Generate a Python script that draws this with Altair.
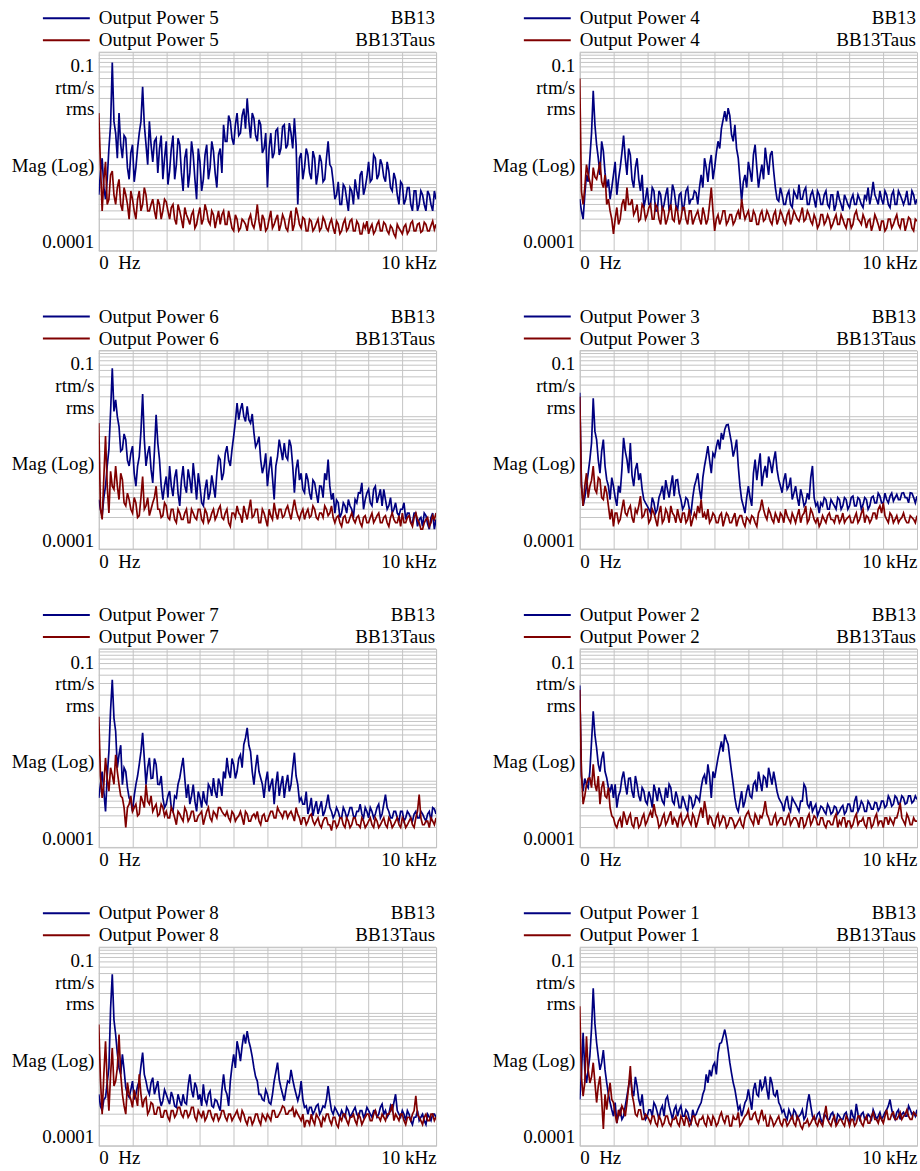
import altair as alt
import pandas as pd

# ---------------- axis / layout constants ----------------
FONT = "Liberation Serif"
FS = 19
BLUE = "#000080"
RED = "#800000"
GRID = "#c4c4c4"
PW, PH = 338, 199

FREQ_STEP_HZ = 100          # spacing of the main readings (0, 100, ... 10000 Hz)
MID_OFFSET_HZ = 50          # the *_MID readings sit half way (50, 150, ... 9950 Hz)
X_GRID = [0, 1000, 2000, 3000, 4000, 5000, 6000, 7000, 8000, 9000, 10000]
Y_GRID = [k * 10.0 ** e for e in (-4, -3, -2) for k in range(1, 10)] + [0.1]
Y_LABEL_TEXT = ["0.1", "rtm/s", "rms", "Mag (Log)", "0.0001"]
Y_LABEL_POS = [0.063, 0.0297, 0.014, 0.00196, 0.000136]
X_LABEL_TEXT = ["0\u00a0\u00a0Hz", "10 kHz"]

# ---------------- spectra (magnitude, rtm/s rms) ----------------
P5_BB13 = [.0007, .0025, .0006, .0035, .07, .006, .012, .0025, .005, .0012,
           .004, .0018, .006, .03, .004, .009, .0022, .005, .0035, .0012,
           .0045, .0016, .0055, .002, .004, .0008, .0035, .0015, .0028, .0006,
           .0022, .0012, .004, .0018, .0032, .0009, .0035, .008, .0045, .009,
           .004, .012, .006, .014, .02, .005, .01, .0045, .008, .0035,
           .0009, .006, .003, .007, .0035, .008, .004, .006, .01, .0005,
           .003, .0018, .0028, .0012, .0025, .0015, .0022, .0012, .0045, .0018,
           .0006, .0011, .0005, .0009, .0004, .0008, .0012, .0006, .0016, .0009,
           .0022, .0012, .0025, .0014, .002, .0011, .0016, .0008, .0012, .0005,
           .001, .0006, .0009, .0004, .0008, .0005, .0007, .0004, .0007, .0004, .0006]
P5_BB13_MID = [.0015, .0009, .0012, .008, .009, .0025, .004, .0055, .0018, .003,
               .0011, .0035, .009, .008, .002, .004, .0045, .0015, .0055, .0025,
               .001, .0035, .0012, .005, .0015, .0025, .0009, .0045, .0012, .0035,
               .0008, .0028, .0012, .0045, .0015, .0028, .0015, .0045, .011, .005,
               .008, .0055, .011, .007, .009, .012, .0055, .0095, .003, .006,
               .0035, .0025, .0065, .0028, .0075, .0035, .0085, .0035, .004, .0025,
               .0012, .0035, .0015, .0032, .001, .0028, .0011, .0025, .002, .0011,
               .0007, .0005, .001, .0006, .0009, .0005, .0008, .0014, .0007, .0013,
               .0011, .0028, .0012, .0024, .0013, .0022, .0009, .0015, .0007, .0011,
               .0005, .0009, .0005, .0008, .0004, .0008, .0005, .0008, .0005, .0008]
P5_TAUS = [.012, .0004, .0022, .0006, .0016, .0005, .0012, .0004, .0007, .0003,
           .0006, .0003, .0008, .0005, .0007, .0004, .0006, .0003, .0005, .0004,
           .00055, .0003, .0005, .00025, .0004, .00022, .00035, .00025, .0004, .00025,
           .00045, .0003, .0004, .00025, .00035, .0003, .00025, .0004, .00025, .0003,
           .0002, .0003, .00022, .00028, .0002, .00035, .00022, .0005, .0002, .0003,
           .00022, .0004, .00025, .00035, .00025, .0003, .0002, .0004, .00025, .00035,
           .00022, .0003, .0002, .00028, .00022, .0003, .00022, .00028, .0002, .0003,
           .00018, .00025, .0002, .0003, .00022, .0003, .0002, .00025, .00018, .00022,
           .00018, .00025, .0002, .00028, .0002, .00025, .00018, .00022, .00016, .00022,
           .00018, .00025, .0002, .00028, .0002, .00026, .0002, .00025, .0002, .00028, .00025]
P5_TAUS_MID = [.002, .0012, .0005, .0014, .0007, .0009, .0005, .0009, .0005, .0008,
               .0004, .0006, .0004, .0009, .0004, .0005, .0004, .0006, .0003, .0006,
               .0004, .00045, .0003, .0005, .0003, .00045, .0003, .00035, .00022, .00035,
               .00025, .0005, .00028, .0004, .00022, .0004, .00035, .00025, .0004, .00022,
               .00035, .0002, .0003, .00025, .0003, .00025, .0003, .00028, .00035, .0002,
               .0003, .00022, .0003, .0002, .00035, .00022, .0003, .0002, .00045, .00025,
               .00032, .0002, .0003, .0002, .00026, .0002, .00032, .00022, .00026, .00022,
               .00028, .00018, .00026, .0002, .00028, .0002, .00028, .00018, .00025, .00028,
               .00022, .00018, .00025, .0002, .00027, .0002, .00024, .00018, .00025, .0002,
               .00023, .00018, .00026, .0002, .00025, .00019, .00027, .0002, .00024, .00021]

P4_BB13 = [.0006, .0003, .0014, .0025, .026, .004, .0014, .0032, .0009, .0006,
           .0014, .0007, .0018, .0055, .0014, .0028, .0009, .0025, .0008, .00045,
           .0009, .0005, .0008, .0004, .0007, .0005, .0009, .0005, .0008, .0004,
           .00075, .0005, .0009, .0006, .0008, .0005, .0014, .0025, .0011, .0028,
           .0018, .0045, .007, .0128, .0143, .0057, .008, .0025, .00056, .0014,
           .0022, .0011, .004, .0009, .002, .0036, .0014, .0032, .0009, .00056,
           .0007, .0005, .0008, .00045, .0007, .001, .0006, .0009, .0005, .0008,
           .00045, .0007, .0005, .0008, .00045, .0007, .0005, .0006, .0004, .0006,
           .00045, .0007, .0005, .0006, .00045, .0006, .0005, .0011, .0006, .0008,
           .0005, .0007, .00045, .0008, .0005, .0007, .0005, .0008, .0005, .0007, .0006]
P4_BB13_MID = [.0004, .0007, .0011, .006, .008, .0025, .0045, .0015, .0012, .0009,
               .0022, .0012, .003, .0025, .0035, .0012, .0018, .0012, .0014, .0006,
               .0005, .0009, .0004, .0008, .0004, .0007, .0004, .001, .0005, .0007,
               .0004, .0008, .0005, .0006, .00075, .0009, .0009, .0018, .002, .0012,
               .003, .0035, .0095, .009, .011, .0045, .0035, .0012, .0011, .0009,
               .0016, .0028, .0018, .0014, .0012, .0022, .0028, .0016, .0006, .0009,
               .0005, .0007, .0005, .0008, .0006, .0006, .0008, .0005, .0007, .0006,
               .0008, .0005, .0007, .0005, .0007, .0004, .0008, .0005, .0007, .0005,
               .0006, .0005, .0007, .0005, .0007, .0009, .0007, .0007, .0005, .0006,
               .0008, .0005, .0007, .0005, .0008, .0006, .0006, .0005, .0008, .0005]
P4_TAUS = [.04, .0005, .002, .0011, .0018, .0012, .0022, .0009, .0005, .0004,
           .00018, .00045, .0003, .0006, .0009, .0005, .00035, .0005, .0003, .00045,
           .00035, .0005, .0003, .00045, .00025, .0004, .0003, .0005, .00028, .0004,
           .0003, .00045, .00025, .0004, .0003, .0004, .00025, .00035, .0003, .0009,
           .0002, .00035, .0003, .0004, .00028, .00035, .00028, .0004, .0006, .0003,
           .0004, .00028, .00035, .00025, .0004, .0003, .00035, .00025, .0004, .0003,
           .00035, .00025, .0004, .0003, .00035, .00028, .00045, .0003, .00035, .00025,
           .0003, .00025, .00035, .00028, .0003, .00025, .00035, .00025, .0003, .00022,
           .0003, .00025, .0004, .00028, .00035, .00022, .0003, .00025, .0003, .0002,
           .00028, .00022, .0003, .00025, .00035, .00022, .0003, .00025, .0003, .0002, .00028]
P4_TAUS_MID = [.0008, .0009, .0014, .0008, .0013, .0016, .0011, .0014, .0006, .0003,
               .0003, .00025, .0005, .0004, .0005, .0006, .0004, .00028, .0005, .0003,
               .00045, .0003, .0005, .0003, .00045, .00025, .0004, .0003, .00045, .00025,
               .00045, .0003, .0004, .00025, .00035, .0003, .00045, .00025, .0005, .0004,
               .0003, .00025, .0004, .00025, .00035, .00025, .00035, .0003, .0004, .00035,
               .00028, .0004, .00025, .00035, .00028, .0004, .00028, .00035, .00025, .0004,
               .00028, .00035, .00025, .0004, .0003, .00035, .00028, .0004, .00028, .00035,
               .00022, .00035, .00025, .00035, .00022, .0003, .00025, .00035, .00025, .0003,
               .00022, .00035, .0003, .00025, .0003, .00028, .0002, .00035, .00025, .00028,
               .0002, .0003, .00022, .0003, .00025, .0003, .0002, .00032, .00022, .0003]

P6_BB13 = [.00056, .00032, .00089, .0032, .054, .018, .0071, .0032, .0045, .0018,
           .0036, .00089, .0025, .022, .0018, .0036, .001, .0107, .00225, .00056,
           .00125, .0018, .00063, .0016, .00045, .0018, .00071, .00112, .002, .00056,
           .00089, .00045, .00112, .00071, .00089, .0014, .00225, .0014, .0036, .0018,
           .0051, .016, .0128, .0101, .0143, .008, .0057, .004, .00225, .0018,
           .00089, .0025, .00056, .0025, .0032, .004, .00225, .0036, .00071, .00225,
           .0014, .00071, .00112, .00056, .001, .0005, .00089, .0014, .00225, .00056,
           .00035, .0005, .00035, .00045, .00056, .0004, .00056, .00071, .001, .00056,
           .0008, .00045, .00089, .00063, .00045, .00056, .00045, .00035, .0005, .00032,
           .0004, .00028, .00035, .00025, .00035, .00028, .00022, .00032, .0002, .00035, .00028]
P6_BB13_MID = [.0004, .0006, .0018, .012, .012, .01, .003, .0055, .0022, .0028,
               .0014, .0018, .006, .0045, .0028, .0016, .003, .004, .0009, .0009,
               .0006, .0009, .0012, .0007, .0011, .0009, .0016, .0007, .0011, .0014,
               .0005, .0008, .00056, .0013, .0006, .0025, .0011, .0028, .0022, .0032,
               .0085, .009, .016, .0085, .009, .011, .0035, .005, .0014, .0028,
               .0016, .0012, .0018, .0045, .0022, .0025, .0045, .0018, .0016, .0011,
               .0008, .0014, .0007, .0011, .0007, .0009, .0006, .0011, .0009, .0007,
               .00055, .0003, .0005, .00035, .00045, .0003, .0005, .0007, .0004, .0007,
               .0005, .0008, .0005, .0008, .0008, .0004, .0006, .0004, .00035, .0004,
               .0005, .00035, .00025, .00035, .00022, .0003, .00035, .00024, .0003, .0002]
P6_TAUS = [.008, .00028, .0051, .00035, .00089, .0018, .00056, .00112, .00045, .00056,
           .00035, .0005, .00032, .00125, .00045, .00032, .0005, .00089, .0004, .00032,
           .00045, .00028, .0004, .00025, .00035, .00028, .0004, .00025, .00035, .00028,
           .0004, .00025, .00035, .00028, .0004, .00032, .00045, .00028, .0004, .00022,
           .00035, .00045, .00032, .00045, .00028, .00056, .00032, .0004, .00025, .00035,
           .00022, .00032, .0005, .00028, .0004, .00032, .00045, .00028, .00056, .00032,
           .00035, .00028, .0004, .00032, .0004, .00028, .00035, .00045, .00032, .00045,
           .00025, .00032, .00022, .00032, .00025, .00035, .00025, .00032, .00022, .00032,
           .00025, .00035, .00028, .00035, .00025, .00032, .00022, .00035, .00025, .00032,
           .00035, .00025, .00032, .00022, .00035, .00025, .0002, .00028, .00022, .00032, .00035]
P6_TAUS_MID = [.0004, .0012, .0009, .0015, .0008, .0009, .0014, .0005, .0007, .0004,
               .0006, .0003, .0006, .0004, .0006, .0004, .0006, .0004, .0003, .0005,
               .0003, .0004, .00028, .0004, .00028, .00035, .00025, .0004, .0003, .0004,
               .00028, .0004, .00025, .00035, .00028, .0004, .0003, .00035, .00025, .00035,
               .0003, .00035, .00025, .00035, .0004, .0003, .0004, .00025, .0004, .00028,
               .0004, .00028, .00035, .0004, .0003, .0004, .00035, .0004, .0004, .00028,
               .0004, .00035, .0003, .00045, .0003, .00035, .0003, .0004, .00035, .0003,
               .0003, .00025, .0003, .00025, .0003, .00028, .0003, .00025, .0003, .00025,
               .0003, .00025, .00032, .00025, .0003, .00025, .0003, .00028, .00025, .00022,
               .00025, .0003, .00025, .0003, .00028, .0002, .00025, .0003, .00025, .00028]

P3_BB13 = [.023, .00045, .00089, .00225, .019, .0045, .0014, .0045, .00112, .00056,
           .00089, .00045, .00071, .0048, .00225, .004, .00089, .002, .0014, .00056,
           .00045, .00035, .0005, .0004, .00071, .00056, .0008, .00089, .00063, .00112,
           .00056, .00045, .00056, .00035, .00089, .0014, .00056, .0018, .0036, .0014,
           .0025, .0045, .0057, .0064, .0076, .004, .0032, .0018, .00056, .00035,
           .00089, .00045, .00225, .0018, .00089, .0018, .0025, .0014, .003, .00112,
           .00071, .0014, .00089, .00056, .00089, .00045, .00063, .0005, .00056, .0018,
           .00045, .00035, .00045, .00056, .0004, .0005, .0004, .00056, .00045, .00056,
           .00045, .00063, .00045, .00056, .00047, .00056, .00045, .00063, .0005, .00063,
           .0005, .00056, .00063, .00053, .00067, .00056, .00071, .0006, .00071, .0006, .00063]
P3_BB13_MID = [.001, .0006, .0014, .004, .006, .0022, .003, .0018, .0009, .0012,
               .0006, .0009, .0016, .003, .0014, .0013, .0016, .0011, .0008, .0005,
               .0004, .0006, .00035, .0006, .0009, .0011, .0006, .0013, .0011, .0007,
               .0004, .0006, .0004, .0006, .0011, .0008, .0012, .0025, .0022, .0028,
               .0035, .0032, .0045, .0075, .0055, .0025, .0045, .0009, .00045, .0006,
               .0006, .0014, .0011, .0028, .0014, .0012, .002, .0022, .0016, .0009,
               .0011, .0008, .0012, .0007, .0006, .0008, .00045, .0007, .0012, .0006,
               .0005, .0005, .0006, .0004, .00056, .00045, .0006, .0004, .0006, .0004,
               .0006, .00045, .0006, .0004, .0006, .0004, .0006, .0005, .0007, .0005,
               .0007, .0005, .0007, .0006, .00056, .0007, .0006, .0005, .0007, .0005]
P3_TAUS = [.02, .00045, .0014, .00089, .0018, .00071, .00112, .00056, .00071, .00028,
           .00022, .00035, .00028, .00056, .00032, .00045, .00025, .00035, .00063, .00032,
           .0004, .00028, .00035, .00022, .00045, .00028, .00035, .00045, .00032, .0004,
           .00025, .00035, .00028, .00022, .00035, .00045, .00056, .00035, .0004, .00028,
           .00032, .00025, .00035, .00028, .00032, .00025, .00035, .00028, .00032, .00022,
           .00028, .00032, .00025, .00035, .00056, .00032, .0004, .00028, .00035, .00025,
           .00032, .0004, .00028, .00035, .00025, .0004, .00032, .00045, .00028, .00035,
           .00025, .00022, .00032, .00025, .00035, .00028, .00032, .00025, .00035, .00028,
           .00032, .00025, .00035, .00028, .0004, .00032, .00025, .00035, .00028, .00045,
           .0005, .00028, .00035, .00025, .00032, .00028, .00035, .00025, .00032, .00028, .00032]
P3_TAUS_MID = [.0009, .0009, .0006, .0011, .0008, .0012, .0006, .0009, .00045, .0004,
               .00035, .00025, .0004, .00035, .0004, .0003, .0004, .00045, .0003, .0004,
               .00025, .0004, .00028, .00035, .00025, .0004, .00025, .00035, .00025, .0003,
               .00035, .00025, .0004, .00028, .0003, .00035, .0003, .00028, .00025, .00035,
               .00025, .00032, .00022, .00035, .00025, .0003, .00022, .00032, .00025, .0003,
               .00025, .0003, .00022, .0004, .0004, .00028, .00035, .00025, .0003, .00035,
               .00025, .00032, .00025, .0003, .00032, .00025, .00035, .00025, .0004, .00028,
               .0003, .00025, .00028, .00032, .00028, .00025, .00032, .00028, .00025, .0003,
               .00025, .0003, .00025, .00035, .00025, .0003, .00028, .00035, .0004, .00035,
               .00032, .00025, .00032, .00028, .00025, .0003, .00028, .00025, .0003, .00025]

P7_BB13 = [.00056, .0014, .00035, .0028, .034, .0057, .0025, .00089, .0014, .00056,
           .00035, .00089, .0018, .0054, .00089, .00225, .00112, .0018, .00089, .00056,
           .00045, .00071, .00035, .00056, .00112, .00225, .00056, .00045, .00089, .00035,
           .00056, .00071, .00045, .0008, .00112, .00056, .00089, .0014, .00225, .00112,
           .0018, .0014, .0025, .0036, .0064, .0028, .00089, .0025, .00112, .00056,
           .0014, .00089, .00045, .0014, .00089, .00056, .00125, .00089, .0027, .00089,
           .00056, .00045, .00032, .00056, .0004, .00032, .0005, .00035, .00063, .00035,
           .00032, .00035, .00028, .00035, .00032, .0004, .00028, .00035, .00032, .0004,
           .00028, .00035, .00032, .00045, .00032, .00063, .00035, .00028, .00035, .00025,
           .00035, .00028, .00032, .00025, .00035, .00028, .00032, .00025, .00035, .0004, .00032]
P7_BB13_MID = [.0009, .0007, .0012, .012, .009, .0016, .0035, .0016, .0008, .0005,
               .0006, .0012, .0028, .0022, .0016, .0011, .0022, .0009, .0012, .0004,
               .0006, .0004, .0006, .0009, .0016, .0011, .0009, .0006, .0005, .0007,
               .0004, .0005, .0009, .0006, .0007, .0011, .0006, .0011, .0014, .0022,
               .0011, .0022, .0016, .0045, .0035, .0014, .0016, .0014, .0009, .001,
               .0007, .0011, .0009, .0006, .0012, .0009, .0007, .0016, .0012, .0005,
               .00045, .0007, .0004, .0003, .0005, .0004, .0003, .00045, .0004, .00028,
               .0004, .00028, .0004, .00028, .0004, .0003, .00035, .00045, .00028, .00035,
               .0004, .00028, .0004, .00028, .00045, .0004, .00028, .00035, .00028, .00035,
               .00025, .00035, .00028, .00032, .00028, .00035, .00028, .00032, .00025, .00038]
P7_TAUS = [.0094, .00056, .00225, .00071, .00125, .0025, .00089, .00056, .0002, .00045,
           .00035, .00045, .00032, .0005, .00089, .00045, .00035, .00045, .00032, .0004,
           .00035, .00028, .00035, .00022, .00032, .00025, .00035, .00028, .00035, .00025,
           .00032, .00022, .00035, .00028, .00035, .00028, .0004, .00032, .00035, .00025,
           .00032, .00028, .00035, .00022, .00032, .00025, .00032, .00035, .00022, .00032,
           .00025, .00035, .00028, .0004, .00032, .00035, .00028, .00035, .00025, .00032,
           .00022, .00028, .00025, .00032, .00022, .00028, .0002, .00028, .00022, .00018,
           .00025, .00022, .00028, .0002, .00025, .00022, .00028, .00022, .00028, .0002,
           .00025, .00022, .00028, .0002, .00025, .00022, .00028, .0002, .00025, .00022,
           .00028, .0002, .00025, .00022, .00028, .00063, .00022, .00025, .0002, .00025, .00028]
P7_TAUS_MID = [.0012, .0009, .0011, .0016, .0009, .0014, .0006, .0004, .0004, .0006,
               .0004, .0003, .0006, .0004, .0005, .0006, .0004, .0003, .00045, .0003,
               .00028, .0004, .00028, .00035, .00028, .0004, .00025, .00035, .00025, .0003,
               .00035, .00028, .0004, .00025, .00032, .0004, .00035, .0003, .00028, .00035,
               .00025, .0003, .00028, .00035, .00025, .0003, .00028, .00025, .0003, .00025,
               .0003, .00035, .00028, .00035, .00028, .00035, .00032, .0003, .0004, .00028,
               .00028, .00022, .0003, .00025, .00025, .00022, .00025, .00028, .00022, .00025,
               .0002, .00028, .00022, .00028, .0002, .00028, .00022, .0002, .00025, .00022,
               .00028, .0002, .00025, .00022, .00028, .0002, .00025, .00022, .00028, .0002,
               .00025, .00022, .00028, .0002, .00035, .00028, .00022, .00025, .00028, .00022]

P2_BB13 = [.028, .00071, .00089, .0014, .0114, .0032, .0014, .0028, .00112, .00071,
           .00056, .0004, .00071, .0014, .00063, .00112, .00056, .00089, .0005, .00071,
           .00045, .00056, .00089, .0005, .00063, .00045, .00056, .0008, .00045, .00056,
           .0004, .0005, .00035, .00056, .00045, .00056, .0008, .00125, .0018, .00056,
           .00112, .00225, .004, .0051, .0036, .0014, .00056, .00035, .00071, .0005,
           .00089, .00056, .001, .0014, .00071, .00112, .0016, .00089, .001, .00056,
           .00045, .0005, .0004, .00056, .00045, .00035, .0005, .0008, .0004, .00035,
           .00045, .00035, .0004, .00032, .0004, .00034, .0004, .00035, .00043, .00035,
           .00045, .00035, .0006, .0004, .00045, .00035, .00045, .00038, .00047, .0004,
           .0005, .00043, .00053, .00045, .00056, .00047, .00056, .00047, .0006, .0005, .00053]
P2_BB13_MID = [.0012, .0011, .0008, .004, .005, .0018, .0022, .0014, .0008, .0009,
               .0009, .0006, .0011, .0009, .0011, .0007, .0012, .0006, .0008, .0005,
               .0007, .0004, .0007, .0008, .0005, .0008, .0009, .0005, .0007, .0004,
               .0006, .0004, .0006, .0004, .0006, .0005, .0011, .0009, .0012, .0014,
               .0016, .003, .0028, .0042, .0022, .0009, .0004, .0005, .0004, .0007,
               .0006, .0009, .0007, .001, .0012, .0008, .0012, .0014, .0007, .0005,
               .00035, .0006, .00035, .0005, .0004, .0005, .0009, .00045, .0005, .0004,
               .0003, .00042, .00035, .00045, .00032, .00042, .00032, .0004, .00032, .00045,
               .00035, .0005, .00035, .0005, .00035, .0005, .00038, .00048, .00036, .0005,
               .0004, .0006, .00042, .0006, .00045, .0006, .00045, .0006, .00047, .0006]
P2_TAUS = [.024, .00045, .00089, .00112, .0018, .00071, .00045, .001, .00056, .0004,
           .00028, .0002, .00028, .00035, .00022, .00032, .0002, .00028, .00022, .00032,
           .00025, .00035, .00045, .00028, .00022, .00032, .00025, .00035, .00028, .0002,
           .00032, .00025, .00032, .00022, .00028, .00025, .0004, .0005, .00022, .00028,
           .0002, .00032, .00025, .00028, .00022, .00028, .0002, .00025, .00022, .00028,
           .00035, .00025, .00032, .00022, .00028, .0005, .00028, .00022, .00032, .00025,
           .00028, .00022, .00032, .00025, .00028, .0002, .00028, .00022, .00032, .00025,
           .00028, .00022, .00028, .0002, .00025, .00022, .00032, .00025, .00028, .0002,
           .00025, .00022, .00032, .00025, .00028, .0002, .00028, .00022, .00032, .00025,
           .0002, .00028, .00028, .00022, .00028, .00047, .00025, .00032, .00022, .00028, .00025]
P2_TAUS_MID = [.0014, .0006, .0011, .0008, .0009, .0012, .0008, .0006, .0008, .0003,
               .00022, .00025, .0002, .00028, .00028, .00022, .00028, .0002, .00028, .00022,
               .0003, .00028, .00032, .0002, .00028, .00022, .0003, .00022, .00025, .00028,
               .00022, .00028, .00025, .00032, .0002, .00032, .00028, .00035, .0003, .00022,
               .00028, .00022, .0003, .0002, .00028, .00025, .00022, .00028, .0002, .00032,
               .00028, .00022, .00028, .0003, .00035, .00032, .00022, .00028, .00022, .00028,
               .00022, .00028, .00022, .00028, .00025, .00028, .0002, .00028, .00022, .0003,
               .00022, .00028, .00022, .00025, .00022, .00028, .0002, .00022, .00028, .00025,
               .0002, .00028, .00022, .00025, .00022, .00028, .0002, .00028, .00022, .00025,
               .00028, .00022, .00025, .00028, .00035, .00028, .00022, .00028, .00022, .00025]

P8_BB13 = [.0006, .00034, .00054, .0015, .039, .0048, .0015, .0024, .00076, .00054,
           .00095, .0006, .00095, .00255, .00095, .0006, .00107, .00076, .00054, .00048,
           .0006, .000425, .00054, .00038, .00048, .0006, .000425, .0012, .00054, .00076,
           .0006, .00085, .000425, .00067, .00038, .00048, .00034, .0012, .0006, .00095,
           .0024, .0038, .0019, .0048, .0054, .003, .0015, .00095, .0006, .00048,
           .0006, .000425, .00095, .0018, .00076, .00048, .00095, .0014, .00076, .00048,
           .00095, .00038, .0003, .00038, .00034, .000425, .00034, .00038, .0008, .00034,
           .00038, .0003, .00034, .00027, .00034, .0003, .00038, .00027, .00034, .0003,
           .00034, .00027, .00034, .0003, .000425, .00034, .0003, .00034, .0006, .0003,
           .00034, .00024, .0003, .00021, .00027, .00024, .0003, .00021, .00027, .0003, .00027]
P8_BB13_MID = [.0004, .0005, .0009, .012, .008, .0025, .0012, .0014, .0006, .0007,
               .0005, .0008, .0016, .0012, .0007, .0009, .0006, .00095, .0004, .0007,
               .0005, .00065, .0004, .0006, .0004, .00045, .0008, .0007, .0009, .0005,
               .0004, .0005, .0006, .0004, .0005, .0004, .0007, .0007, .0004, .0016,
               .0015, .0028, .0032, .0035, .0038, .0022, .0011, .0006, .0005, .0007,
               .00045, .0006, .0013, .001, .0006, .0007, .0009, .001, .0006, .0006,
               .0005, .0004, .00038, .0003, .0004, .0003, .0004, .0005, .0005, .0003,
               .00034, .00027, .0003, .00038, .00027, .00034, .0003, .00034, .00027, .00038,
               .0003, .00034, .00027, .00038, .0003, .00027, .0004, .00045, .00034, .00027,
               .0003, .00034, .00024, .00027, .00034, .00027, .00024, .0003, .00024, .0003]
P8_TAUS = [.0068, .0003, .0038, .00034, .003, .00095, .0048, .0006, .0003, .0006,
           .00038, .00054, .0012, .00038, .00054, .00034, .000425, .0003, .00038, .00027,
           .00034, .00024, .00034, .0003, .00038, .00027, .00034, .0003, .00038, .00024,
           .0003, .00034, .00027, .00034, .00024, .0003, .00027, .00034, .00024, .0003,
           .00027, .00034, .00024, .0003, .00021, .00027, .00024, .0003, .00021, .00027,
           .0003, .00024, .00034, .00027, .00034, .00038, .0003, .00034, .00027, .0003,
           .00024, .00019, .00024, .0003, .00021, .00027, .00019, .00024, .0003, .00021,
           .00027, .00019, .00024, .0003, .00021, .00027, .00024, .0003, .00021, .00027,
           .0003, .00024, .00034, .00027, .0003, .00024, .0003, .000425, .0003, .00024,
           .0003, .00021, .00027, .0003, .00057, .00027, .00021, .0003, .00024, .0003, .00027]
P8_TAUS_MID = [.001, .0012, .0009, .0012, .0008, .0015, .0012, .0004, .0009, .0005,
               .0007, .0004, .0006, .0005, .0003, .00045, .0003, .00038, .00027, .00034,
               .00027, .00034, .00027, .00038, .0003, .00034, .00027, .00038, .00027, .00034,
               .00027, .00024, .00034, .00027, .0003, .00024, .00034, .00027, .0003, .00024,
               .0003, .00027, .00034, .00024, .00027, .00021, .0003, .00024, .0003, .00024,
               .00027, .00034, .00027, .0003, .0004, .0003, .00034, .00038, .00034, .00027,
               .0003, .00024, .00021, .00024, .0003, .00024, .00027, .0003, .00024, .00027,
               .00021, .00027, .0003, .00024, .00027, .0003, .00021, .00027, .00024, .0003,
               .00024, .0003, .00027, .00024, .00027, .0003, .00034, .00024, .00027, .0003,
               .00024, .00027, .00024, .00034, .0003, .00024, .00027, .00024, .0003, .00024]

P1_BB13 = [.0005, .0051, .00089, .00225, .024, .0036, .0014, .0028, .00089, .00045,
           .00028, .00022, .00035, .00028, .00056, .00112, .00056, .0008, .0004, .00032,
           .00028, .00035, .00045, .00032, .00035, .00028, .00056, .00032, .00035, .00028,
           .0004, .00028, .00032, .00022, .00028, .00035, .00045, .00071, .00089, .00112,
           .0018, .0025, .0036, .0057, .0028, .00125, .00071, .00035, .00028, .00045,
           .00071, .00035, .00089, .00056, .00071, .00112, .0005, .00089, .00056, .00045,
           .00032, .00028, .00035, .00025, .00032, .00028, .00035, .00028, .0006, .00028,
           .00025, .00032, .00022, .00028, .00025, .00032, .00022, .00028, .00025, .00032,
           .00022, .00028, .00043, .00025, .00032, .00025, .00028, .00035, .00025, .00032,
           .00028, .00035, .0005, .00028, .00032, .00025, .00032, .00028, .00035, .00032, .00035]
P1_BB13_MID = [.0012, .0014, .0014, .006, .007, .0022, .0018, .0014, .0006, .00035,
               .00045, .0003, .00025, .0004, .0008, .0007, .0011, .0005, .0006, .00025,
               .00035, .00028, .0004, .00025, .0004, .0005, .0004, .00025, .0004, .00035,
               .00028, .00035, .00025, .00035, .0003, .0004, .0006, .0012, .0014, .0016,
               .0012, .0035, .0045, .0042, .0018, .0009, .0005, .0004, .00035, .0005,
               .0005, .0007, .0006, .001, .0008, .0007, .0011, .0006, .0007, .0004,
               .00035, .00025, .0003, .00035, .00025, .0003, .00025, .00045, .0004, .00025,
               .0003, .00025, .0003, .00025, .0003, .00025, .0003, .00025, .0003, .00025,
               .00035, .00025, .0003, .0003, .00025, .0003, .00025, .0003, .00028, .00025,
               .00032, .0004, .00035, .00025, .00035, .0003, .00028, .0004, .0003, .00028]
P1_TAUS = [.0128, .00056, .0045, .00089, .0018, .00045, .00112, .00018, .00035, .00089,
           .00045, .00022, .00028, .00035, .00045, .0016, .00045, .00028, .00035, .00025,
           .00028, .00022, .00028, .0002, .00025, .00022, .00028, .0002, .00025, .00022,
           .00028, .0002, .00025, .00022, .00028, .0002, .00025, .00022, .00028, .0002,
           .00025, .00022, .00032, .00022, .00028, .0002, .00025, .00032, .00022, .00028,
           .00035, .00025, .00032, .00022, .00035, .00028, .0002, .00025, .00022, .00028,
           .0002, .00025, .00022, .00028, .0002, .00025, .00018, .00022, .0002, .00025,
           .00022, .00025, .0002, .0004, .00022, .00025, .0002, .00025, .00022, .00028,
           .0002, .00025, .00022, .00028, .0002, .00028, .00022, .00032, .00025, .00028,
           .00022, .00035, .00025, .00032, .00025, .00032, .00028, .00035, .00025, .00032, .00028]
P1_TAUS_MID = [.0011, .0009, .0014, .0011, .0009, .0008, .0005, .0006, .0006, .0005,
               .0003, .00035, .0004, .00028, .0008, .0006, .0003, .00035, .00025, .0003,
               .00025, .00028, .00022, .00028, .0002, .00028, .00022, .00025, .00028, .0002,
               .00025, .00028, .0002, .00028, .00022, .00025, .00028, .0002, .00025, .00028,
               .0002, .00028, .00025, .00028, .0002, .00028, .00025, .0002, .00025, .0003,
               .00025, .0003, .00025, .00028, .00025, .0002, .00028, .0002, .00025, .00022,
               .00025, .0002, .00025, .00022, .00028, .0002, .00022, .00025, .00022, .00028,
               .0002, .00022, .00028, .00025, .0002, .00028, .00022, .00025, .0002, .00025,
               .00025, .0002, .00028, .00022, .00025, .00022, .00028, .00025, .00022, .00025,
               .00028, .00025, .0003, .00025, .00028, .00025, .0003, .00028, .00025, .0003]

PANEL_NAMES = ["Output Power 5", "Output Power 4", "Output Power 6", "Output Power 3",
               "Output Power 7", "Output Power 2", "Output Power 8", "Output Power 1"]
PANEL_DATA = [
    (P5_BB13, P5_BB13_MID, P5_TAUS, P5_TAUS_MID),
    (P4_BB13, P4_BB13_MID, P4_TAUS, P4_TAUS_MID),
    (P6_BB13, P6_BB13_MID, P6_TAUS, P6_TAUS_MID),
    (P3_BB13, P3_BB13_MID, P3_TAUS, P3_TAUS_MID),
    (P7_BB13, P7_BB13_MID, P7_TAUS, P7_TAUS_MID),
    (P2_BB13, P2_BB13_MID, P2_TAUS, P2_TAUS_MID),
    (P8_BB13, P8_BB13_MID, P8_TAUS, P8_TAUS_MID),
    (P1_BB13, P1_BB13_MID, P1_TAUS, P1_TAUS_MID),
]
SERIES_NAMES = ["BB13", "BB13Taus"]

# ---------------- shared scales / axes ----------------
x_scale = alt.Scale(domain=[0, 10000], nice=False, zero=False)
y_scale = alt.Scale(type="log", domain=[0.0001, 0.1], nice=False)

y_expr = " : ".join(
    f"abs(datum.value/{v}-1)<1e-6 ? '{t}'" for t, v in zip(Y_LABEL_TEXT, Y_LABEL_POS)
) + " : ''"
x_expr = f"datum.value == 0 ? '{X_LABEL_TEXT[0]}' : datum.value == 10000 ? '{X_LABEL_TEXT[1]}' : ''"

x_axis = alt.Axis(values=X_GRID, grid=True, gridColor=GRID, gridWidth=1, ticks=False, domain=False,
                  labelExpr=x_expr, labelFlush=True, labelOverlap=False, labelPadding=3,
                  labelFont=FONT, labelFontSize=FS, labelColor="black", title=None)
y_axis = alt.Axis(values=Y_LABEL_POS, grid=False, ticks=False, domain=False, labelExpr=y_expr,
                  labelOverlap=False, labelPadding=5, labelFont=FONT, labelFontSize=FS,
                  labelColor="black", labelLimit=200, title=None)


def series_frame(main, mid):
    freq = [i * FREQ_STEP_HZ for i in range(len(main))] + \
           [i * FREQ_STEP_HZ + MID_OFFSET_HZ for i in range(len(mid))]
    df = pd.DataFrame({"freq": freq, "mag": list(main) + list(mid)})
    return df.sort_values("freq").reset_index(drop=True)


def legend_row(name, series, color, ypix):
    one = pd.DataFrame({"name": [name], "series": [series]})
    sample = alt.Chart(one).mark_rule(color=color, strokeWidth=2).encode(
        x=alt.value(-56), x2=alt.value(-9), y=alt.value(ypix))
    left = alt.Chart(one).mark_text(align="left", baseline="middle", font=FONT, fontSize=FS,
                                    color="black").encode(text="name:N", x=alt.value(0), y=alt.value(ypix))
    right = alt.Chart(one).mark_text(align="right", baseline="middle", font=FONT, fontSize=FS,
                                     color="black").encode(text="series:N", x=alt.value(PW - 1), y=alt.value(ypix))
    return [sample, left, right]


def make_panel(name, bb13, bb13_mid, taus, taus_mid):
    x_enc = alt.X("freq:Q", scale=x_scale, axis=x_axis)
    y_enc = alt.Y("mag:Q", scale=y_scale, axis=y_axis)
    grid = alt.Chart(pd.DataFrame({"mag": Y_GRID})).mark_rule(color=GRID, strokeWidth=1).encode(y=y_enc)
    blue = alt.Chart(series_frame(bb13, bb13_mid)).mark_line(
        color=BLUE, strokeWidth=1.7, clip=True).encode(x=x_enc, y=y_enc)
    red = alt.Chart(series_frame(taus, taus_mid)).mark_line(
        color=RED, strokeWidth=1.7, clip=True).encode(x=x_enc, y=y_enc)
    layers = [grid, blue, red] + legend_row(name, SERIES_NAMES[0], BLUE, -34) \
        + legend_row(name, SERIES_NAMES[1], RED, -12)
    return alt.layer(*layers).properties(width=PW, height=PH)


panels = [make_panel(n, *d) for n, d in zip(PANEL_NAMES, PANEL_DATA)]
rows = [alt.hconcat(panels[i], panels[i + 1], spacing=54) for i in range(0, 8, 2)]

chart = alt.vconcat(*rows, spacing=33).properties(
    padding={"left": 10, "top": 7, "right": 2, "bottom": 2},
    background="white",
).configure_view(stroke="#c4c4c4", strokeWidth=1)

chart.save("out.html", embed_options={"renderer": "svg", "actions": False})
